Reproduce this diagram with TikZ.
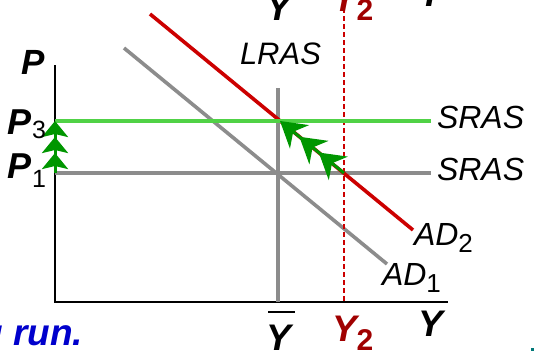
\documentclass[tikz,border=0pt]{standalone}
\usepackage{fontspec}
\setmainfont{Liberation Sans}
\usetikzlibrary{arrows.meta}
\definecolor{adred}{RGB}{204,0,0}
\definecolor{ylabred}{RGB}{160,0,0}
\definecolor{srasgreen}{RGB}{80,210,70}
\definecolor{arrgreen}{RGB}{0,150,0}
\definecolor{curvegray}{RGB}{140,140,140}
\definecolor{runblue}{RGB}{0,0,204}
\definecolor{dotteal}{RGB}{0,120,120}
\newcommand\fsz[1]{\fontsize{#1}{#1}\selectfont}
\tikzset{
  lab/.style={inner sep=0pt, outer sep=0pt, anchor=base west},
  curve/.style={line width=3.6pt},
  axisline/.style={line width=1.3pt, black},
  trismall/.style={-{Stealth[length=16pt,width=26pt,inset=3pt] Stealth[length=16pt,width=26pt,inset=3pt] Stealth[length=16pt,width=26pt,inset=3pt]}},
  tribig/.style={-{Stealth[length=25pt,width=30pt,inset=8pt] Stealth[length=25pt,width=30pt,inset=8pt] Stealth[length=25pt,width=30pt,inset=8pt]}},
  bylab/.style={lab, font=\fsz{37}\bfseries\itshape},
}
\begin{document}
\begin{tikzpicture}[x=1pt,y=-1pt]
\useasboundingbox (0,0) rectangle (534,351);
\clip (0,0) rectangle (534,351);
% coordinates
\coordinate (o) at (55,302);
\coordinate (ytop) at (55,65);
\coordinate (xend) at (448,302);
\coordinate (p3) at (55,121);
\coordinate (p1) at (55,173);
\coordinate (s3end) at (431,121);
\coordinate (s1end) at (431,173);
\coordinate (lrtop) at (278,88);
\coordinate (lrbot) at (278,302);
\coordinate (dtop) at (344,0);
\coordinate (dbot) at (344,302);
\coordinate (ad1a) at (124,48);
\coordinate (ad1b) at (387,264);
\coordinate (ad2a) at (150,14);
\coordinate (ad2b) at (413,230);
\coordinate (e2) at (344,173);
\coordinate (e3) at (280,121);
% axes
\draw[axisline] (ytop) -- (o) -- (xend);
% curves
\draw[curve, curvegray] (lrtop) -- (lrbot);
\draw[curve, curvegray] (p1) -- (s1end);
\draw[curve, curvegray] (ad1a) -- (ad1b);
\draw[line width=1.3pt, adred, dash pattern=on 5pt off 3pt] (dtop) -- (dbot);
\draw[curve, adred] (ad2a) -- (ad2b);
\draw[curve, srasgreen] (p3) -- (s3end);
% green adjustment arrows
\draw[line width=3pt, arrgreen, trismall] (p1) -- (p3);
\draw[line width=3pt, arrgreen, tribig] (e2) -- (e3);
% labels
\node[lab, font=\fsz{35}\bfseries\itshape] (plab) at (21,74) {P};
\node[lab, font=\fsz{36}\bfseries\itshape] (p3lab) at (8,134) {P\raisebox{-4pt}{\fsz{25}\mdseries\upshape 3}};
\node[lab, font=\fsz{36}\bfseries\itshape] (p1lab) at (8,178) {P\raisebox{-9pt}{\fsz{25}\mdseries\upshape 1}};
\node[lab, font=\fsz{31}\itshape] (lraslab) at (240,64) {LRAS};
\node[lab, font=\fsz{32}\itshape] (sras3lab) at (437,128) {SRAS};
\node[lab, font=\fsz{32}\itshape] (sras1lab) at (437,180) {SRAS};
\node[lab, font=\fsz{32}\itshape] (ad2lab) at (414,245) {AD\raisebox{-7pt}{\fsz{26}\upshape 2}};
\node[lab, font=\fsz{32}\itshape] (ad1lab) at (382,285) {AD\raisebox{-7pt}{\fsz{26}\upshape 1}};
% bottom axis labels and their copies cut at the top edge
\foreach \dy/\nm in {0/b, -330/t} {
  \node[bylab] (ybar\nm) at (266,350+\dy) {Y};
  \node[bylab, text=ylabred] (ytwo\nm) at (332,341+\dy) {Y\raisebox{-9pt}{\fsz{30}\upshape 2}};
  \node[bylab] (yax\nm) at (418,336+\dy) {Y};
}
\draw[line width=2pt] (268,312) -- (295,312);
\node[lab, anchor=base east, font=\fsz{37}\bfseries\itshape, text=runblue] (runlab) at (83,345) {long run.};
\fill[dotteal] (531,348) rectangle (534,351);
\end{tikzpicture}
\end{document}
